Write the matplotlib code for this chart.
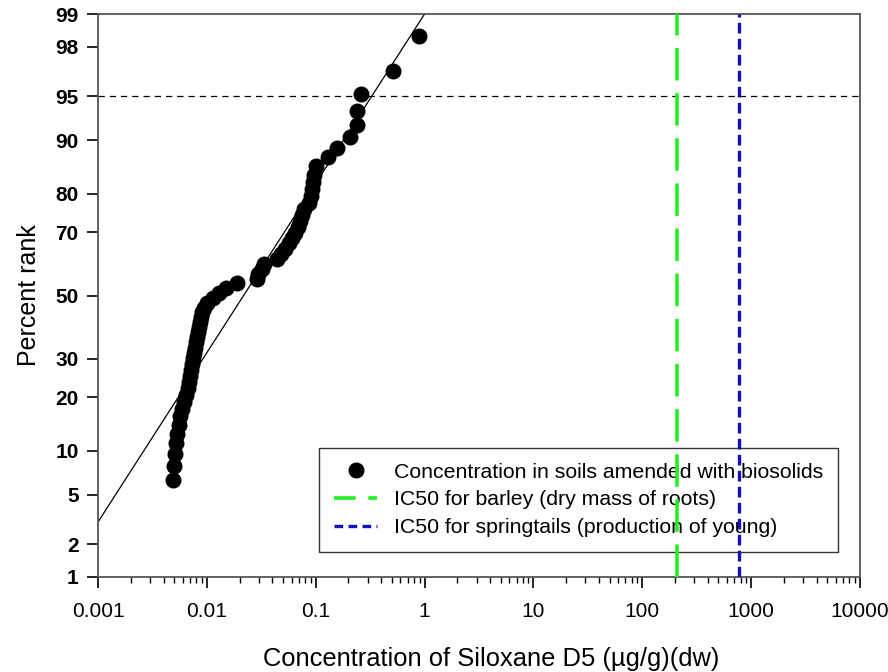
import math
import numpy as np
import matplotlib
matplotlib.use("Agg")
import matplotlib.pyplot as plt
from matplotlib.lines import Line2D
from matplotlib.ticker import FixedLocator, FixedFormatter, LogLocator, NullFormatter

plt.rcParams['font.family'] = ['Liberation Sans', 'DejaVu Sans']

# ---- data ----
conc = [0.00488, 0.00499, 0.00509, 0.00520, 0.00531, 0.00554, 0.00566, 0.00591,
        0.00616, 0.00643, 0.00671, 0.00685, 0.00699, 0.00715, 0.00730, 0.00745,
        0.00761, 0.00778, 0.00794, 0.00811, 0.00829, 0.00846, 0.00864, 0.00883,
        0.00902, 0.00941, 0.01002, 0.01138, 0.01291, 0.01498, 0.01890, 0.02884,
        0.02946, 0.03205, 0.03344, 0.04402, 0.04790, 0.05215, 0.05676, 0.06046,
        0.06442, 0.06864, 0.07160, 0.07469, 0.07791, 0.08660, 0.09034, 0.09227,
        0.09424, 0.09626, 0.1004, 0.1294, 0.1566, 0.2061, 0.2389, 0.2389,
        0.2601, 0.5117, 0.8866]
rank = [6.35, 7.94, 9.52, 11.11, 12.70, 14.29, 15.87, 17.46, 19.05, 20.63,
        22.22, 23.81, 25.40, 26.98, 28.57, 30.16, 31.75, 33.33, 34.92, 36.51,
        38.10, 39.68, 41.27, 42.86, 44.44, 46.03, 47.62, 49.21, 50.79, 52.38,
        53.97, 55.56, 57.14, 58.73, 60.32, 61.90, 63.49, 65.08, 66.67, 68.25,
        69.84, 71.43, 73.02, 74.60, 76.19, 77.78, 79.37, 80.95, 82.54, 84.13,
        85.71, 87.30, 88.89, 90.48, 92.06, 93.65, 95.24, 96.83, 98.41]
fit_conc = [0.001, 1.0]
fit_rank = [3.06, 99.0]
ic50_barley = 208
ic50_springtails = 770
ref_rank = 95
y_ticks = [1, 2, 5, 10, 20, 30, 50, 70, 80, 90, 95, 98, 99]
x_ticks = [0.001, 0.01, 0.1, 1, 10, 100, 1000, 10000]
x_ticklabels = ['0.001', '0.01', '0.1', '1', '10', '100', '1000', '10000']
legend_labels = ['Concentration in soils amended with biosolids',
                 'IC50 for barley (dry mass of roots)',
                 'IC50 for springtails (production of young)']

# ---- probit scale helpers ----
_a = [-3.969683028665376e+01, 2.209460984245205e+02, -2.759285104469687e+02,
      1.383577518672690e+02, -3.066479806614716e+01, 2.506628277459239e+00]
_b = [-5.447609879822406e+01, 1.615858368580409e+02, -1.556989798598866e+02,
      6.680131188771972e+01, -1.328068155288572e+01]
_c = [-7.784894002430293e-03, -3.223964580411365e-01, -2.400758277161838e+00,
      -2.549732539343734e+00, 4.374664141464968e+00, 2.938163982698783e+00]
_d = [7.784695709041462e-03, 3.224671290700398e-01, 2.445134137142996e+00,
      3.754408661907416e+00]


def _ppf_scalar(p):
    p = min(max(p, 1e-12), 1 - 1e-12)
    plow = 0.02425
    if p < plow:
        q = math.sqrt(-2 * math.log(p))
        return ((((( _c[0]*q + _c[1])*q + _c[2])*q + _c[3])*q + _c[4])*q + _c[5]) / \
               ((((_d[0]*q + _d[1])*q + _d[2])*q + _d[3])*q + 1)
    if p > 1 - plow:
        q = math.sqrt(-2 * math.log(1 - p))
        return -((((( _c[0]*q + _c[1])*q + _c[2])*q + _c[3])*q + _c[4])*q + _c[5]) / \
               ((((_d[0]*q + _d[1])*q + _d[2])*q + _d[3])*q + 1)
    q = p - 0.5
    r = q * q
    return (((((_a[0]*r + _a[1])*r + _a[2])*r + _a[3])*r + _a[4])*r + _a[5]) * q / \
           (((((_b[0]*r + _b[1])*r + _b[2])*r + _b[3])*r + _b[4])*r + 1)


def forward(pct):
    pct = np.asarray(pct, dtype=float)
    return np.vectorize(lambda v: _ppf_scalar(v / 100.0), otypes=[float])(pct)


def inverse(z):
    z = np.asarray(z, dtype=float)
    return np.vectorize(lambda v: 50.0 * (1 + math.erf(v / math.sqrt(2))), otypes=[float])(z)


# ---- figure ----
fig = plt.figure(figsize=(8.88, 6.72), dpi=100)
ax = fig.add_axes([98/888, 1 - 577/672, (860-98)/888, (577-14)/672])

ax.set_xscale('log')
ax.set_yscale('function', functions=(forward, inverse))
ax.set_xlim(0.001, 10000)
ax.set_ylim(1, 99)

green = '#22f022'
blue = '#1010c0'
ax.plot(fit_conc, fit_rank, color='black', lw=0.9, zorder=2)
ax.plot(conc, rank, 'o', color='black', ms=10.5, zorder=3)
ax.axhline(ref_rank, color='black', lw=0.9, ls=(0, (5, 4)), zorder=1)
ax.axvline(ic50_barley, color=green, lw=2.6, ls=(0, (9, 3.5)), zorder=6)
ax.axvline(ic50_springtails, color=blue, lw=2.4, ls=(0, (3.2, 1.6)), zorder=6)

handles = [
    Line2D([], [], ls='none', marker='o', color='black', ms=10.5),
    Line2D([], [], color=green, lw=2.6, ls=(0, (6, 3.5))),
    Line2D([], [], color=blue, lw=2.4, ls=(0, (2.6, 1.6))),
]

ax.yaxis.set_major_locator(FixedLocator(y_ticks))
ax.yaxis.set_major_formatter(FixedFormatter([str(v) for v in y_ticks]))
ax.yaxis.set_minor_locator(FixedLocator([]))
ax.xaxis.set_major_locator(FixedLocator(x_ticks))
ax.xaxis.set_major_formatter(FixedFormatter(x_ticklabels))
ax.xaxis.set_minor_locator(LogLocator(base=10, subs=np.arange(2, 10), numticks=20))
ax.xaxis.set_minor_formatter(NullFormatter())

for s in ax.spines.values():
    s.set_color('#555555')
    s.set_linewidth(1.3)
ax.tick_params(axis='both', which='major', direction='out', length=8, width=1.2,
               color='black', labelsize=15, pad=6)
ax.tick_params(axis='x', which='minor', direction='out', length=4.5, width=1.0, color='black')
ax.tick_params(axis='x', which='major', pad=10)
for lab in ax.get_yticklabels():
    lab.set_fontweight('bold')

ax.set_xlabel('Concentration of Siloxane D5 (µg/g)(dw)', fontsize=18.4, labelpad=20)
ax.xaxis.set_label_coords(0.5 + 12/762, -0.125)
ax.set_ylabel('Percent rank', fontsize=18, labelpad=10)

leg = ax.legend(handles, legend_labels, loc='lower right', bbox_to_anchor=(0.971, 0.044),
                fontsize=15.3, frameon=True, fancybox=False, edgecolor='black',
                facecolor='none', handlelength=2.0, handletextpad=0.8,
                labelspacing=0.42, borderpad=0.7, borderaxespad=0)
leg.get_frame().set_linewidth(1.0)
leg.set_zorder(4)

fig.savefig('out.png', dpi=100)
